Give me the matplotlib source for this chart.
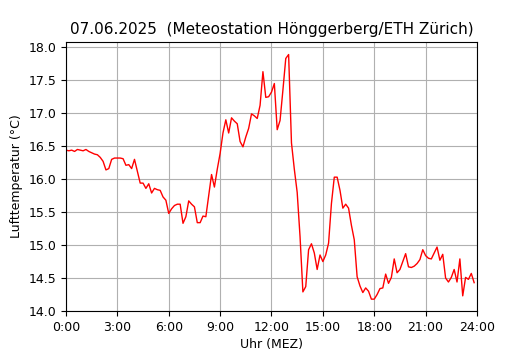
import numpy as np
import matplotlib
matplotlib.use("Agg")
import matplotlib.pyplot as plt

# 10-min Werte, 0:00 bis 23:50
temp = [16.44, 16.43, 16.44, 16.42, 16.45, 16.44, 16.43, 16.45, 16.42, 16.40,
        16.38, 16.37, 16.33, 16.27, 16.14, 16.16, 16.30, 16.32, 16.32, 16.32,
        16.31, 16.21, 16.22, 16.16, 16.30, 16.12, 15.94, 15.94, 15.86, 15.93,
        15.79, 15.86, 15.84, 15.83, 15.73, 15.68, 15.48, 15.55, 15.60, 15.62,
        15.62, 15.33, 15.43, 15.67, 15.62, 15.58, 15.34, 15.34, 15.44, 15.43,
        15.75, 16.07, 15.88, 16.15, 16.39, 16.70, 16.90, 16.70, 16.93, 16.88,
        16.84, 16.57, 16.49, 16.64, 16.77, 16.99, 16.96, 16.92, 17.12, 17.63,
        17.24, 17.25, 17.32, 17.45, 16.75, 16.89, 17.35, 17.83, 17.89, 16.55,
        16.15, 15.80, 15.13, 14.29, 14.37, 14.93, 15.02, 14.88, 14.63, 14.85,
        14.75, 14.85, 15.03, 15.63, 16.03, 16.03, 15.83, 15.56, 15.62, 15.56,
        15.30, 15.08, 14.52, 14.38, 14.28, 14.35, 14.30, 14.18, 14.18, 14.25,
        14.34, 14.35, 14.56, 14.42, 14.51, 14.79, 14.58, 14.63, 14.75, 14.87,
        14.67, 14.66, 14.68, 14.72, 14.78, 14.93, 14.84, 14.80, 14.79, 14.88,
        14.97, 14.77, 14.86, 14.50, 14.44, 14.51, 14.63, 14.44, 14.79, 14.23,
        14.51, 14.48, 14.57, 14.43]
hours = np.arange(len(temp)) / 6.0

xticks = [0, 3, 6, 9, 12, 15, 18, 21, 24]
xlabels = ["0:00", "3:00", "6:00", "9:00", "12:00", "15:00", "18:00", "21:00", "24:00"]

fig = plt.figure(figsize=(5.3, 3.5), dpi=100)
ax = fig.add_axes([0.1245, 0.1114, 0.7755, 0.7686])
ax.plot(hours, temp, color="red", linewidth=1)
ax.set_xlim(0, 24)
ax.set_ylim(14.0, 18.08)
ax.set_xticks(xticks)
ax.set_xticklabels(xlabels)
ax.grid(True)
ax.set_xlabel("Uhr (MEZ)", fontsize=9, labelpad=3)
ax.set_ylabel("Lufttemperatur (°C)", fontsize=9)
ax.set_title("07.06.2025  (Meteostation Hönggerberg/ETH Zürich)", fontsize=11)
ax.tick_params(labelsize=9)
fig.savefig("out.png", dpi=100)
